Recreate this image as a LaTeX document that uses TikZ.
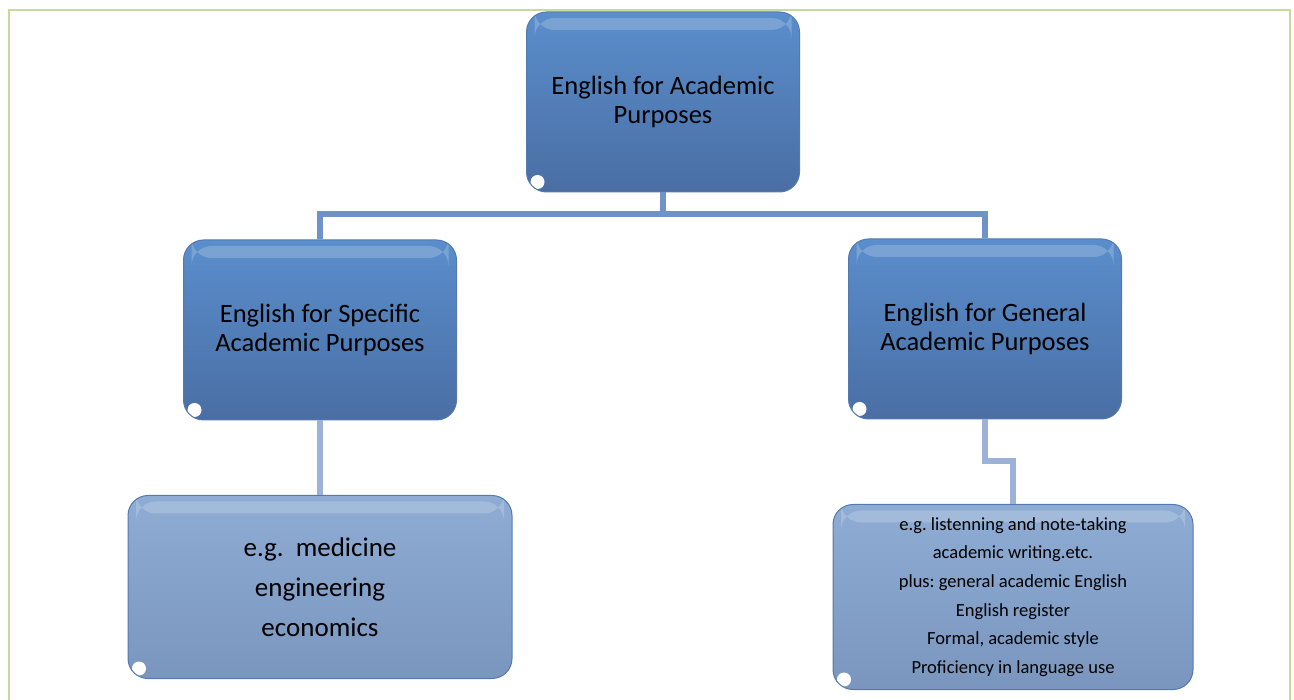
\documentclass[tikz,border=0pt]{standalone}
\usepackage{fontspec}
\setmainfont{Carlito}
\usepackage{tikz}
\usetikzlibrary{positioning}
\frenchspacing
\definecolor{framegreen}{RGB}{198,218,158}
\definecolor{uptop}{RGB}{90,142,204}
\definecolor{upbot}{RGB}{74,110,164}
\definecolor{lowtop}{RGB}{142,172,212}
\definecolor{lowbot}{RGB}{122,150,190}
\definecolor{edgeblue}{RGB}{84,120,176}
\definecolor{linkdark}{RGB}{111,146,200}
\definecolor{linklight}{RGB}{157,178,216}
\tikzset{
    topic/.style={
           rectangle,
           rounded corners=20pt,
           draw=edgeblue, line width=1pt,
           top color=uptop, bottom color=upbot,
           minimum width=273pt,
           minimum height=180pt,
           inner sep=2pt,
           align=center,
           font=\fontsize{26.5}{29}\selectfont,
           path picture={
               \fill[white] ([shift={(11pt,10pt)}]path picture bounding box.south west) circle (7pt);
               \fill[white, opacity=0.2] ([shift={(8pt,-6pt)}]path picture bounding box.north west)
                   rectangle ([shift={(-8pt,-18pt)}]path picture bounding box.north east);
           },
           },
    example/.style={
           topic,
           top color=lowtop, bottom color=lowbot,
           },
    link/.style={line width=6pt},
}

\begin{document}
\begin{tikzpicture}[x=1pt, y=-1pt]
    \useasboundingbox (0,0) rectangle (1294,700);
    % green frame, open at the bottom
    \draw[framegreen, line width=2.5pt] (9,702) -- (9,10) -- (1290,10) -- (1290,702);

    % main topic
    \node[topic] (eap) at (663,102)
    {English for Academic\\Purposes};

    % the two branches
    \node[topic] (esap) at (320,330)
    {English for Specific\\Academic Purposes};

    \node[topic] (egap) at (985,329)
    {English for General\\Academic Purposes};

    % examples below each branch
    \node[example,
    minimum width=384pt,
    minimum height=183pt,
    font=\fontsize{27}{40}\selectfont] (esapex) at (320,587)
    {e.g.~~medicine\\engineering\\economics};

    \node[example,
    minimum width=360pt,
    minimum height=185pt,
    font=\fontsize{18.5}{28.6}\selectfont] (egapex) at (1013,597)
    {e.g. listenning and note-taking\\academic writing.etc.\\plus: general academic English\\English register\\Formal, academic style\\Proficiency in language use};

    % connectors
    \draw[link, linkdark] (eap.south) -- ++(0,22) coordinate (split);
    \draw[link, linkdark] (split) -| (esap.north);
    \draw[link, linkdark] (split) -| (egap.north);
    \draw[link, linklight] (esap.south) -- (esapex.north);
    \draw[link, linklight] (egap.south) -- ++(0,42) -| (egapex.north);
\end{tikzpicture}
\end{document}
